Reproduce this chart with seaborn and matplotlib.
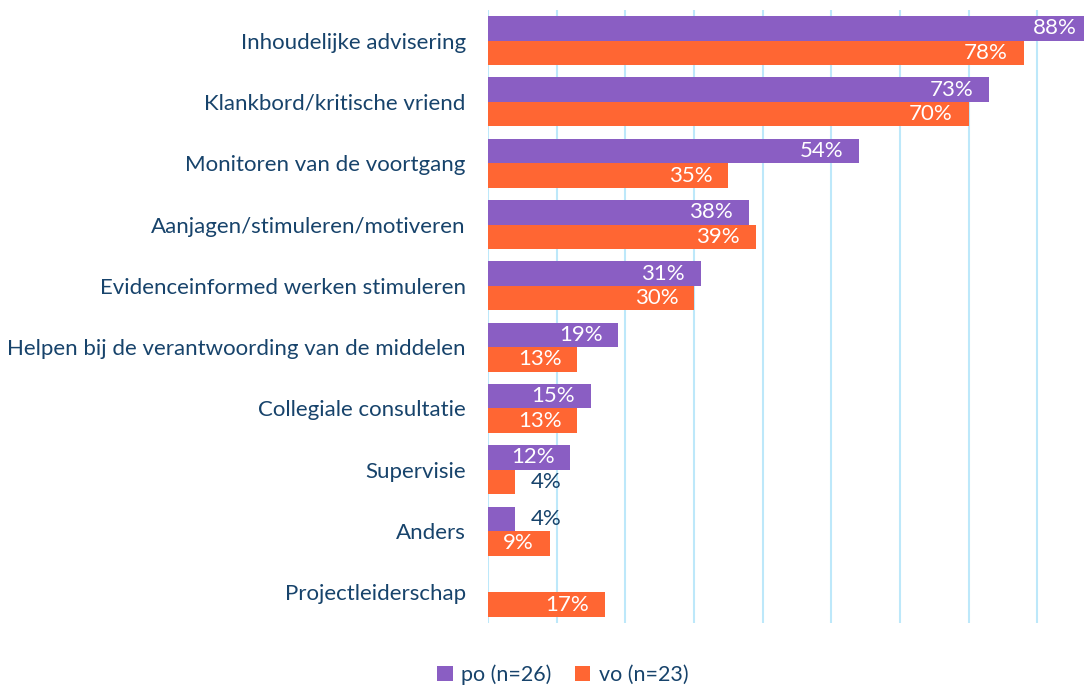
import matplotlib
matplotlib.use("Agg")
import matplotlib.pyplot as plt
import seaborn as sns
import pandas as pd

categories = [
    "Inhoudelijke advisering",
    "Klankbord/kritische vriend",
    "Monitoren van de voortgang",
    "Aanjagen/stimuleren/motiveren",
    "Evidenceinformed werken stimuleren",
    "Helpen bij de verantwoording van de middelen",
    "Collegiale consultatie",
    "Supervisie",
    "Anders",
    "Projectleiderschap",
]
po_values = [88, 73, 54, 38, 31, 19, 15, 12, 4, 0]
vo_values = [78, 70, 35, 39, 30, 13, 13, 4, 9, 17]
series_names = ["po (n=26)", "vo (n=23)"]

PURPLE = "#8A5EC3"
ORANGE = "#FF6633"
NAVY = "#17436B"
GRID = "#BDE8FA"

sns.set_theme(style="white")
plt.rcParams["font.family"] = ["Lato", "DejaVu Sans"]

df = pd.DataFrame({
    "cat": categories * 2,
    "val": po_values + vo_values,
    "grp": [series_names[0]] * len(categories) + [series_names[1]] * len(categories),
})

fig = plt.figure(figsize=(10.84, 6.88), dpi=100)
ax = fig.add_axes([488 / 1084, 1 - 623 / 688, 1 - 488 / 1084, (623 - 10) / 688])

sns.barplot(data=df, y="cat", x="val", hue="grp", orient="h", ax=ax,
            palette=[PURPLE, ORANGE], width=0.8, linewidth=0, saturation=1,
            legend=False)

ax.set_xlim(0, 86.8)
ax.set_ylim(len(categories) - 0.5, -0.5)
ax.set_xticks(range(0, 90, 10))
ax.xaxis.grid(True, color=GRID, linewidth=1.5)
ax.set_axisbelow(True)
for s in ax.spines.values():
    s.set_visible(False)
ax.tick_params(axis="x", labelbottom=False, length=0)
ax.tick_params(axis="y", length=0, pad=16, labelsize=16, labelcolor=NAVY)
ax.set_xlabel("")
ax.set_ylabel("")

for cont in ax.containers:
    for p in cont.patches:
        w = p.get_width()
        if w <= 0:
            continue
        yc = p.get_y() + p.get_height() / 2
        lab = f"{w:.0f}%"
        if w >= 8:
            ax.text(w - 2.3, yc, lab, ha="right", va="center", color="white",
                    fontsize=16, clip_on=False)
        else:
            ax.text(w + 2.2, yc, lab, ha="left", va="center", color=NAVY,
                    fontsize=16)

from matplotlib.patches import Patch
handles = [Patch(facecolor=PURPLE, edgecolor="none"), Patch(facecolor=ORANGE, edgecolor="none")]
fig.legend(handles, series_names, loc="center", bbox_to_anchor=(563 / 1084, 1 - 675 / 688),
           ncol=2, frameon=False, fontsize=15.5, handlelength=0.7, handleheight=0.7,
           handletextpad=0.4, columnspacing=1.1, labelcolor=NAVY)

fig.savefig("out.png", dpi=100)
